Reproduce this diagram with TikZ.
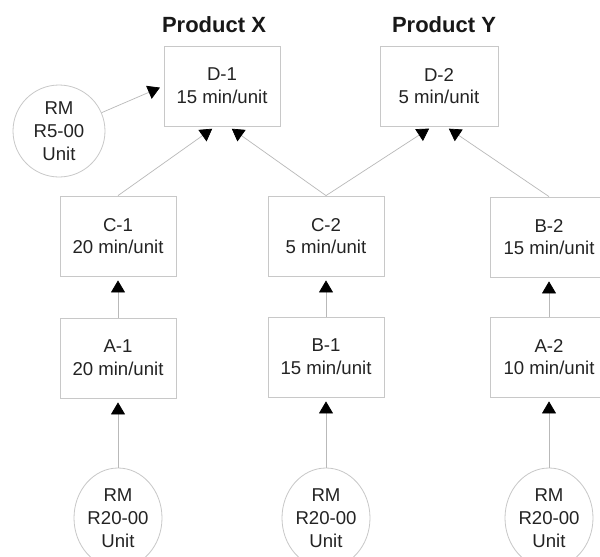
\documentclass[tikz,border=0pt]{standalone}
\usepackage{fontspec}
\setmainfont{Liberation Sans}
\usetikzlibrary{arrows.meta,shapes.geometric}
\definecolor{edgec}{RGB}{200,200,200}
\definecolor{linec}{RGB}{185,185,185}
\definecolor{ink}{RGB}{35,35,35}
\begin{document}
\begin{tikzpicture}[x=1pt,y=-1pt,
  txt/.style={text=ink, font=\fontsize{18.6}{22.8}\selectfont, align=center, inner sep=0pt},
  box/.style={txt, draw=edgec, line width=0.8pt, minimum width=116pt, minimum height=80pt},
  rmcirc/.style={txt, draw=edgec, line width=0.8pt, circle, minimum size=92pt},
  rmoval/.style={txt, draw=edgec, line width=0.8pt, ellipse, minimum width=88pt, minimum height=100pt},
  title/.style={text=ink!70!black, font=\fontsize{22}{26}\selectfont\bfseries, inner sep=0pt},
  link/.style={draw=linec, line width=0.7pt, shorten >=4pt, -{Triangle[width=14pt,length=12pt,color=black]}}
]
\useasboundingbox (0,0) rectangle (600,557);
\fill[white] (0,0) rectangle (600,557);

% titles
\node[title] (tx) at (214,25) {Product X};
\node[title] (ty) at (444,25) {Product Y};

% boxes
\node[box] (D1) at (222,86) {D-1\\15 min/unit};
\node[box, minimum width=118pt] (D2) at (439,86) {D-2\\5 min/unit};
\node[box] (C1) at (118,236) {C-1\\20 min/unit};
\node[box] (A1) at (118,358) {A-1\\20 min/unit};
\node[box] (C2) at (326,236) {C-2\\5 min/unit};
\node[box] (B1) at (326,357) {B-1\\15 min/unit};
\node[box, minimum width=118pt] (B2) at (549,237) {B-2\\15 min/unit};
\node[box, minimum width=118pt] (A2) at (549,357) {A-2\\10 min/unit};

% raw materials
\node[rmcirc] (R0) at (59,131) {RM\\R5-00\\Unit};
\node[rmoval] (R1) at (118,518) {RM\\R20-00\\Unit};
\node[rmoval] (R2) at (326,518) {RM\\R20-00\\Unit};
\node[rmoval] (R3) at (549,518) {RM\\R20-00\\Unit};

% connectors
\draw[link] (R0) -- (D1.west);
\draw[link] (C1.north) -- ([xshift=-6.5pt]D1.south);
\draw[link] (C2.north) -- ([xshift=6.5pt]D1.south);
\draw[link] (C2.north) -- ([xshift=-6.5pt]D2.south);
\draw[link] (B2.north) -- ([xshift=6.5pt]D2.south);
\draw[link] (A1.north) -- (C1.south);
\draw[link] (B1.north) -- (C2.south);
\draw[link] (A2.north) -- (B2.south);
\draw[link] (R1.north) -- (A1.south);
\draw[link] (R2.north) -- (B1.south);
\draw[link] (R3.north) -- (A2.south);
\end{tikzpicture}
\end{document}
